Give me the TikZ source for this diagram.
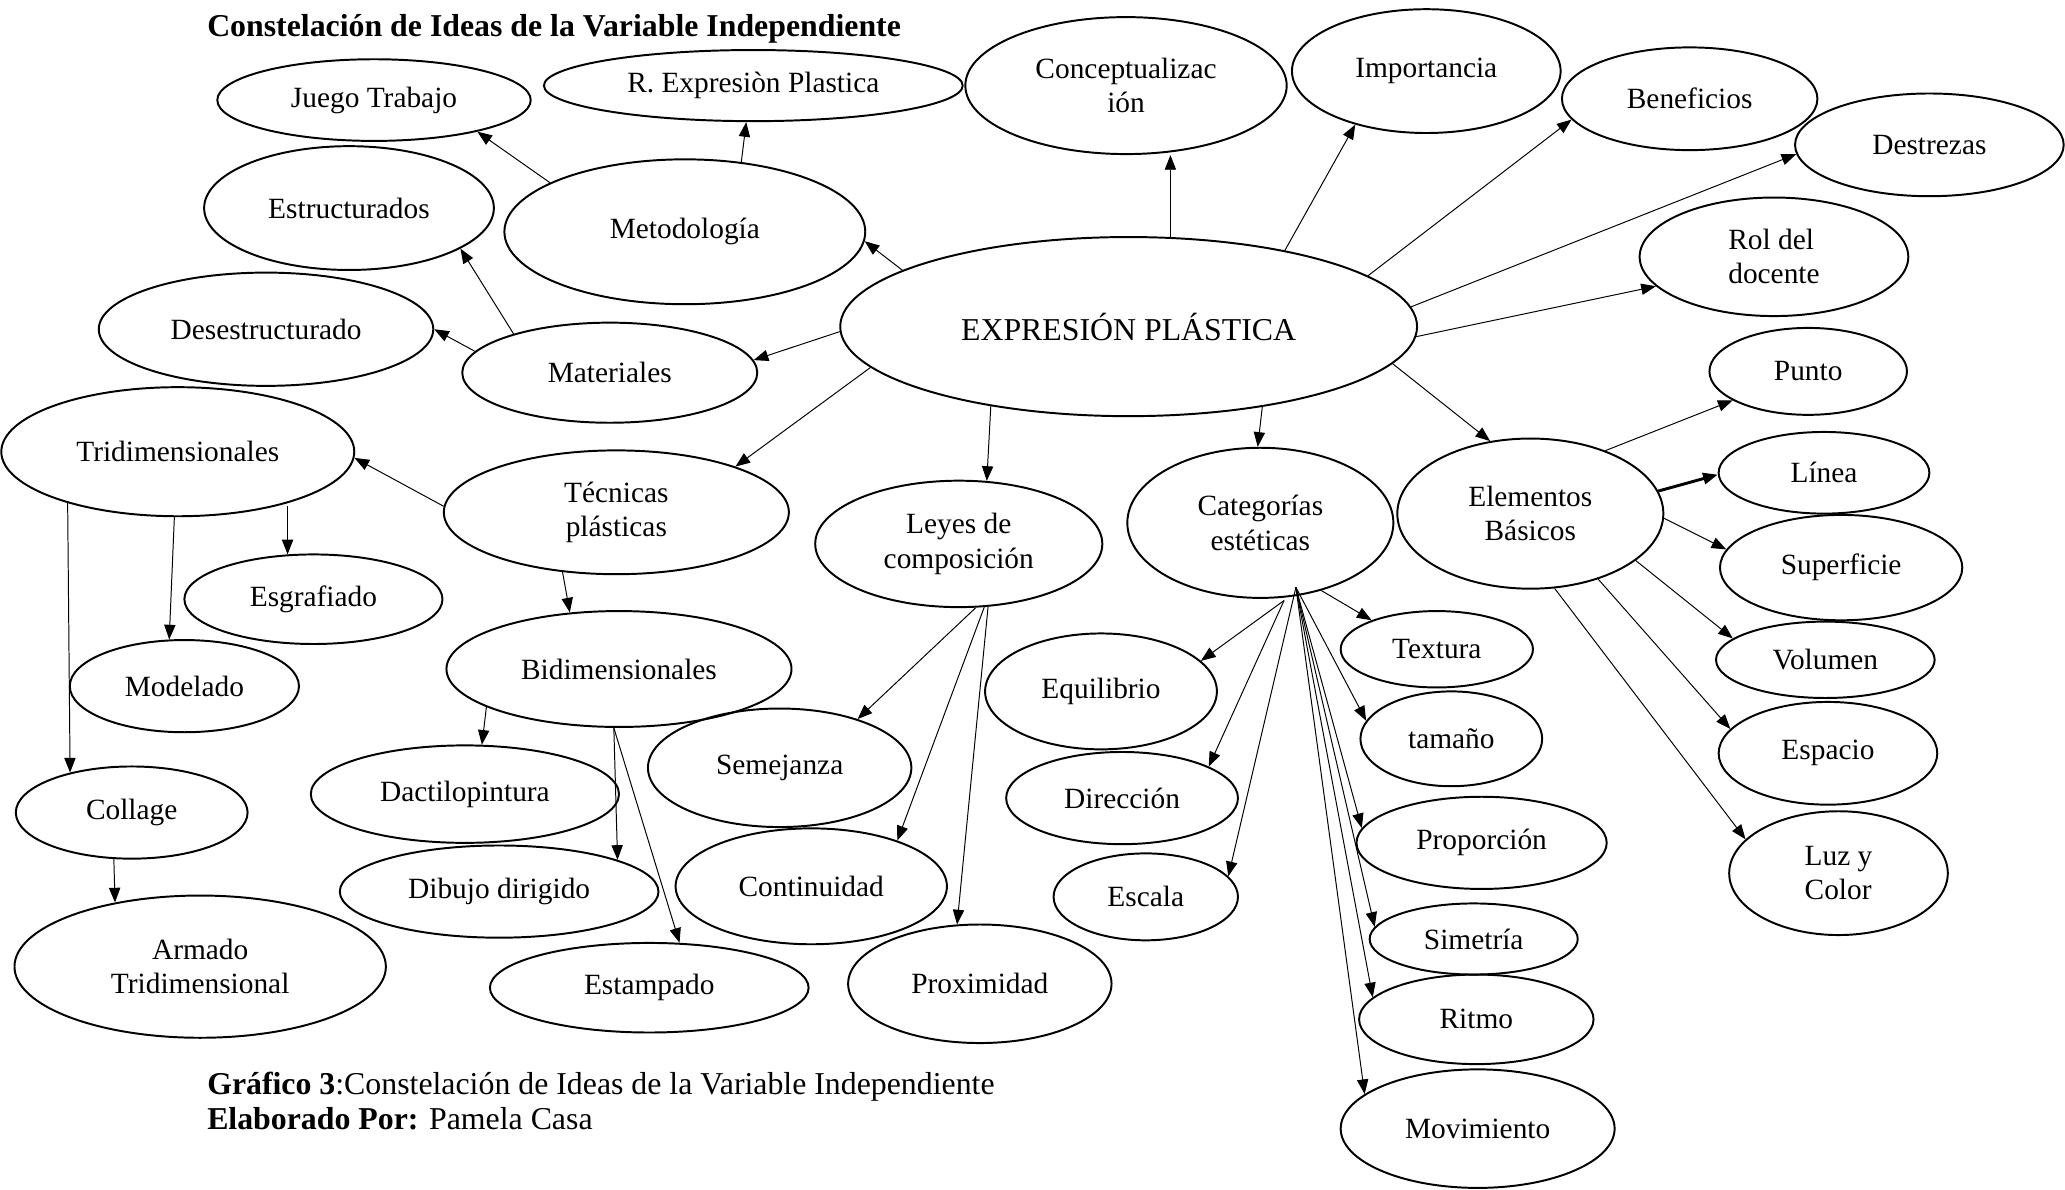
\documentclass[tikz,border=0pt]{standalone}
\usepackage{fontspec}
\setmainfont{Liberation Serif}
\usetikzlibrary{shapes.geometric,arrows.meta}
\begin{document}
\begin{tikzpicture}[x=0.538pt,y=-0.538pt,
  el/.style={draw, ellipse, line width=0.8pt, inner sep=0pt, align=center,
    font=\fontsize{12}{14}\selectfont},
  E/.style 2 args={el, minimum width=#1*1.076pt, minimum height=#2*1.076pt},
  arr/.style={-{Triangle[length=6pt,width=4.6pt]}, line width=0.4pt},
  captxt/.style={anchor=base west, inner sep=0pt, font=\fontsize{13}{15}\selectfont}]
\useasboundingbox (0,0) rectangle (1568,903);

% title and caption
\node[captxt, font=\bfseries\fontsize{13}{15}\selectfont] (title) at (157,28) {Constelación de Ideas de la Variable Independiente};
\node[captxt] (cap1) at (157,831) {\textbf{Gráfico 3}:Constelación de Ideas de la Variable Independiente};
\node[captxt] (cap2) at (157,858) {\textbf{Elaborado Por:} Pamela Casa};

% nodes
\node[E={219}{68}, font=\fontsize{13}{15}\selectfont] (expr) at (857,248) {EXPRESIÓN PLÁSTICA};
\node[E={119}{31}] (jt) at (284,76) {Juego Trabajo};
\node[E={159}{27}] (rep) at (572,65) {R. Expresiòn Plastica};
\node[E={122}{52}] (conc) at (855,65) {Conceptualizac\\ión};
\node[E={102}{47}] (imp) at (1083,54) {Importancia};
\node[E={97}{39}] (ben) at (1283,75) {Beneficios};
\node[E={102}{39}] (des) at (1465,110) {Destrezas};
\node[E={102}{45}, align=left] (rol) at (1347,195) {Rol del\\docente};
\node[E={137}{55}] (met) at (520,176) {Metodología};
\node[E={110}{47}] (est) at (265,158) {Estructurados};
\node[E={127}{43}] (dese) at (202,250) {Desestructurado};
\node[E={112}{38}] (mat) at (463,283) {Materiales};
\node[E={134}{49}] (tri) at (135,343) {Tridimensionales};
\node[E={131}{47}] (tec) at (468,389) {Técnicas\\plásticas};
\node[E={98}{34}] (esg) at (238,455) {Esgrafiado};
\node[E={87}{35}] (mod) at (140,521) {Modelado};
\node[E={131}{44}] (bid) at (470,508) {Bidimensionales};
\node[E={109}{48}] (ley) at (728,413) {Leyes de\\composición};
\node[E={101}{57}] (cat) at (957,397) {Categorías\\estéticas};
\node[E={101}{57}] (ele) at (1162,390) {Elementos\\Básicos};
\node[E={75}{33}] (pun) at (1373,282) {Punto};
\node[E={80}{31}] (lin) at (1385,359) {Línea};
\node[E={92}{40}] (sup) at (1398,431) {Superficie};
\node[E={83}{29}] (vol) at (1386,501) {Volumen};
\node[E={83}{39}] (esp) at (1388,572) {Espacio};
\node[E={83}{47}, align=left] (luz) at (1396,663) {Luz y\\Color};
\node[E={73}{29}] (tex) at (1091,493) {Textura};
\node[E={69}{36}] (tam) at (1102,561) {tamaño};
\node[E={95}{35}] (pro) at (1125,640) {Proporción};
\node[E={79}{27}] (sim) at (1119,713) {Simetría};
\node[E={89}{34}] (rit) at (1121,774) {Ritmo};
\node[E={104}{45}] (mov) at (1122,857) {Movimiento};
\node[E={88}{44}] (equ) at (836,525) {Equilibrio};
\node[E={88}{35}] (dir) at (852,606) {Dirección};
\node[E={70}{33}] (esc) at (870,681) {Escala};
\node[E={100}{45}] (sem) at (592,583) {Semejanza};
\node[E={103}{44}] (con) at (616,673) {Continuidad};
\node[E={100}{45}] (prox) at (744,747) {Proximidad};
\node[E={117}{37}] (dac) at (353,603) {Dactilopintura};
\node[E={121}{35}] (dib) at (379,677) {Dibujo dirigido};
\node[E={121}{34}] (estp) at (493,750) {Estampado};
\node[E={88}{35}] (col) at (100,617) {Collage};
\node[E={141}{54}] (arm) at (152,734) {Armado\\Tridimensional};

% connectors from the centre
\draw[arr] (expr.166.2) -- (met.-3.7);
\draw[arr] (expr.181.3) -- (mat.5.3);
\draw[arr] (expr.189.5) -- (tec.21.7);
\draw[arr] (expr.210.3) -- (ley.66.9);
\draw[arr] (expr.65.7) -- (expr.65.7 |- conc.south);
\draw[arr] (expr.26.8) -- (imp.-143.6);
\draw[arr] (expr.12.5) -- (ben.190.6);
\draw[arr] (expr.4.4) -- (des.184.1);
\draw[arr] (expr.-2.8) -- (rol.194.3);
\draw[arr] (expr.-8.8) -- (ele.119.4);
\draw[arr] (expr.-31.9) -- (cat.92.8);

% left branches
\draw[arr] (met.160.4) -- (jt.-17.4);
\draw[arr] (met.51) -- (rep.-101);
\draw[arr] (mat.158.7) -- (est.-20.4);
\draw[arr] (mat.171.3) -- (dese.0);
\draw[arr] (tec.178.1) -- (tri.-2.6);
\draw[arr] (esg.120.9 |- tri.-29.1) -- (esg.120.9);
\draw[arr] (tri.-93) -- (mod.108);
\draw[arr] (tri.205.1) -- (col.147.1);
\draw[arr] (col.-111.7) -- (arm.143.8);
\draw[arr] (tec.228.3) -- (bid.131.9);
\draw[arr] (bid.196.7) -- (dac.71.3);
\draw[arr] (bid.-95.2) -- (dib.15.2);
\draw[arr] (bid.-95.2) -- (estp.56.3);
\draw[arr] (ley.-75) -- (sem.32.4);
\draw[arr] (ley.-68) -- (con.28.5);
\draw[arr] (ley.-65) -- (prox.111.5);

% categorias fan
\coordinate (catfan) at (984,446);
\coordinate (catfanL) at (975,456);
\draw[arr] (cat.-48.7) -- (tex.156);
\draw[arr] (catfanL) -- (equ.17.8);
\draw[arr] (catfanL) -- (dir.20.1);
\draw[arr] (catfan) -- (esc.14.4);
\draw[arr] (catfan) -- (tam.168.9);
\draw[arr] (catfan) -- (pro.173);
\draw[arr] (catfan) -- (sim.173);
\draw[arr] (catfan) -- (rit.168.4);
\draw[arr] (catfan) -- (mov.163.3);

% elementos
\draw[arr] (ele.40.4) -- (pun.201.8);
\draw[arr, line width=1.2pt] (ele.10.5) -- (lin.181.2);
\draw[arr] (ele.-2.7) -- (sup.171.5);
\draw[arr] (ele.-24.9) -- (vol.167.8);
\draw[arr] (ele.-44.8) -- (esp.166.8);
\draw[arr] (ele.-72.1) -- (luz.160.7);
\end{tikzpicture}
\end{document}
